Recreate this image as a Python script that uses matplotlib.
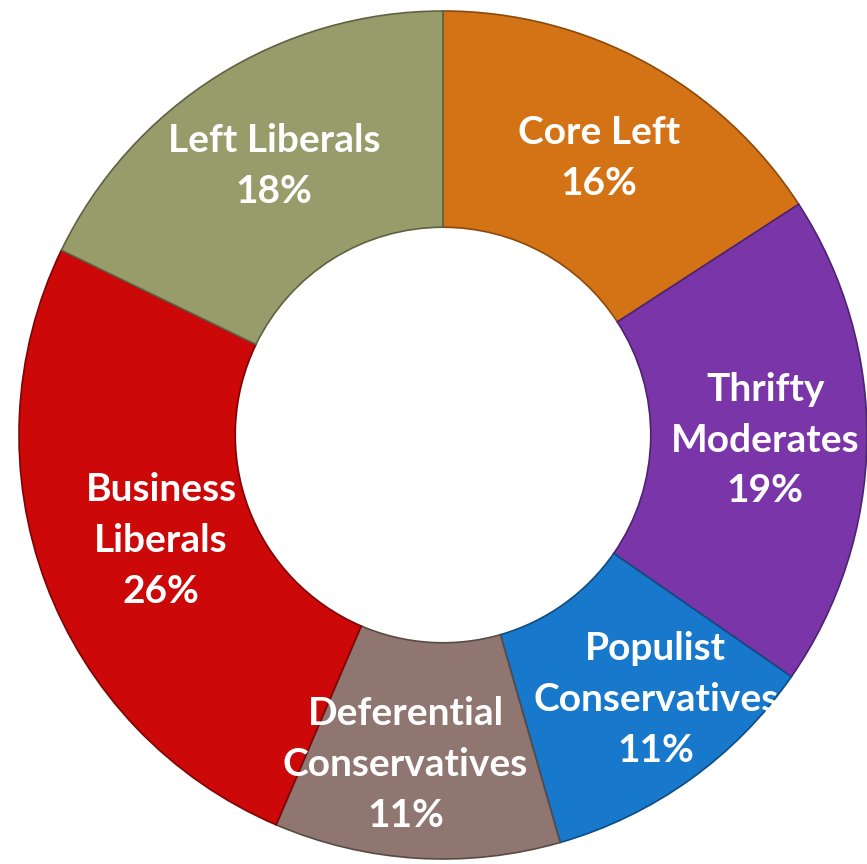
import numpy as np
import matplotlib
matplotlib.use("Agg")
import matplotlib.pyplot as plt

# Segment data (clockwise from 12 o'clock)
segments = ["Core Left", "Thrifty\nModerates", "Populist\nConservatives",
            "Deferential\nConservatives", "Business\nLiberals", "Left Liberals"]
shares = [16, 19, 11, 11, 26, 18]
colors = ["#D37316", "#7A36A9", "#1878CC", "#8F7670", "#CC0808", "#979C6A"]
edge_colors = ["#8A4A0C", "#4E2270", "#0F4C82", "#5A4A46", "#7E0505", "#5F6242"]

# label radius as a fraction of the outer radius, plus a small nudge in points
label_r = [0.75, 0.76, 0.80, 0.78, 0.71, 0.75]
label_nudge = [(4, -2), (0, 0), (15, 11), (-17, 1), (0, 0), (0, 0)]

W, H, DPI = 867, 864, 100
cx, cy, R = 443, 435, 424
ring = 0.51

fig = plt.figure(figsize=(W / DPI, H / DPI), dpi=DPI)
ax = fig.add_axes([0, 0, 1, 1])

wedges, _ = ax.pie(shares, colors=colors, startangle=90, counterclock=False,
                   radius=R, wedgeprops=dict(width=R * ring, linewidth=1.2),
                   frame=True)
for w, ec in zip(wedges, edge_colors):
    w.set_edgecolor(ec)
ax.set_xlim(-cx, W - cx)
ax.set_ylim(-(H - cy), cy)
ax.set_aspect("equal")
ax.axis("off")

for w, name, s, rf, (dx, dy) in zip(wedges, segments, shares, label_r, label_nudge):
    mid = np.deg2rad((w.theta1 + w.theta2) / 2)
    x, y = rf * R * np.cos(mid) + dx, rf * R * np.sin(mid) + dy
    ax.text(x, y, f"{name}\n{s}%", ha="center", va="center", color="white",
            fontsize=28, fontweight="bold", family="Lato", linespacing=1.55)

fig.savefig("out.png", dpi=DPI)
